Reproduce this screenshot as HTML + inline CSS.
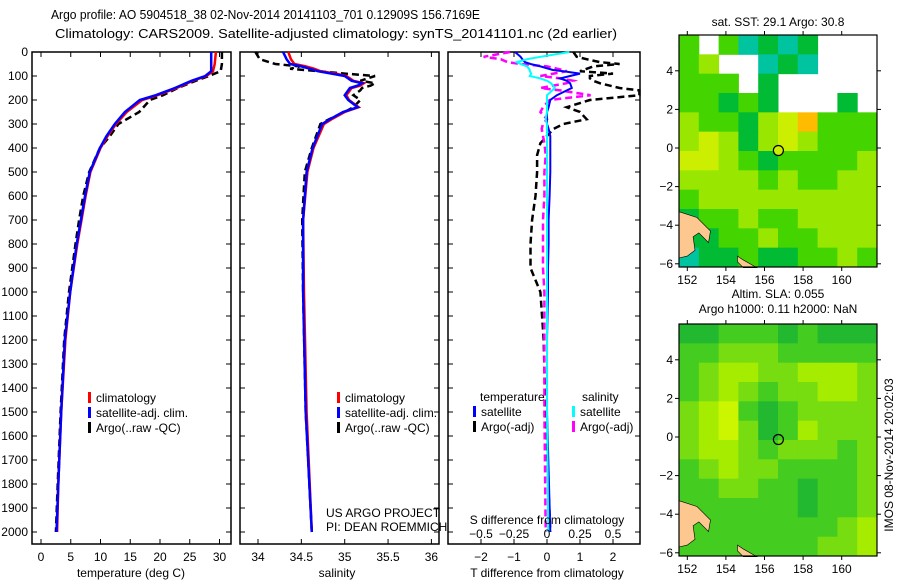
<!DOCTYPE html>
<html><head><meta charset="utf-8"><style>
html,body{margin:0;padding:0;background:#fff}
svg{display:block;font-family:"Liberation Sans",sans-serif}
</style></head><body>
<svg id="fig" width="900" height="580" viewBox="0 0 900 580" xmlns="http://www.w3.org/2000/svg">
<defs><clipPath id="clip2"><rect x="240" y="52" width="199" height="492"/></clipPath></defs>
<text x="51" y="19" font-size="13" textLength="429" lengthAdjust="spacingAndGlyphs">Argo profile: AO 5904518_38 02-Nov-2014 20141103_701 0.12909S 156.7169E</text>
<text x="55" y="38" font-size="13" textLength="562" lengthAdjust="spacingAndGlyphs">Climatology: CARS2009. Satellite-adjusted climatology: synTS_20141101.nc (2d earlier)</text>
<g id="p1"></g>
<g id="p2"></g>
<g id="p3"></g>
<g id="m1"></g>
<g id="m2"></g>
<text transform="translate(893,455) rotate(-90)" text-anchor="middle" font-size="12">IMOS 08-Nov-2014 20:02:03</text>
</svg>
<script>
// ---- data ----
const depthTicks = [0,100,200,300,400,500,600,700,800,900,1000,1100,1200,1300,1400,1500,1600,1700,1800,1900,2000];
const tempTicks = [0,5,10,15,20,25,30];
const salTicks = [34,34.5,35,35.5,36];
const salTickLabels = ["34","34.5","35","35.5","36"];
const tdiffTicks = [-2,-1,0,1,2];
const sdiffTicks = [-0.5,-0.25,0,0.25,0.5];
const sdiffLabels = ["\u22120.5","\u22120.25","0","0.25","0.5"];
const tdiffLabels = ["\u22122","\u22121","0","1","2"];

const tDepth = [0,50,80,100,120,150,180,200,250,300,350,400,500,600,700,800,1000,1200,1500,1800,2000];
const tClim = [29.4,29.2,28.9,27.8,25.5,22.8,19.6,17.0,14.4,12.6,11.2,10.0,8.3,7.5,6.8,6.1,4.9,4.1,3.4,2.9,2.7];
const tSat  = [28.6,28.6,28.6,27.6,25.3,22.5,19.3,16.6,14.1,12.4,11.0,9.9,8.2,7.4,6.7,6.0,4.9,4.0,3.4,2.9,2.6];
const tArgo = [30.4,30.4,30.2,28.2,26.0,23.0,20.5,18.3,16.5,13.0,11.6,9.9,8.1,7.1,6.4,5.8,4.7,3.9,3.3,2.8,2.5];

const sDepth = [0,30,50,60,70,80,90,100,120,130,140,150,160,180,200,230,250,280,300,400,500,700,1000,1500,2000];
const sClim = [34.35,34.38,34.42,34.55,34.65,34.72,34.9,35.02,35.1,35.22,35.18,35.08,35.06,35.02,35.05,35.16,35.0,34.85,34.76,34.64,34.57,34.52,34.53,34.56,34.62];
const sSat  = [34.29,34.33,34.37,34.5,34.6,34.69,34.85,35.0,35.08,35.2,35.15,35.06,35.04,35.0,35.04,35.15,34.98,34.83,34.74,34.63,34.56,34.52,34.52,34.55,34.62];
const sArgo = [33.97,34.02,34.2,34.48,34.37,34.7,35.0,35.35,35.18,35.35,35.3,35.2,35.18,35.1,35.18,35.1,35.0,34.82,34.72,34.62,34.54,34.51,34.52,34.55,34.62];

const dDepth = [0,20,30,42,50,60,75,80,90,100,110,120,130,150,160,180,200,230,250,280,300,320,350,380,430,500,600,700,800,900,1000,1200,1500,2000];
const dTsat  = [-0.97,-0.8,-0.75,-0.67,-0.5,-0.2,0.18,0.5,1.0,0.7,0.4,0.6,0.7,0.75,0.6,0.3,0.1,0.05,0.0,0.0,0.0,0.05,0.1,0.1,0.1,0.1,0.08,0.05,0.05,0.03,0.03,0.0,0.0,0.1];
const dTargo = [0.8,0.9,1.2,1.6,2.2,1.4,1.1,1.0,2.0,1.3,1.3,1.4,1.6,2.2,2.8,2.8,1.3,0.6,1.0,1.2,0.5,0.2,0.0,-0.2,-0.3,-0.3,-0.35,-0.45,-0.5,-0.5,-0.2,-0.1,-0.05,0.1];
const dSsat  = [0.17,-0.05,-0.15,-0.23,-0.2,-0.15,-0.13,-0.13,-0.12,-0.13,-0.05,0.0,0.03,0.06,0.04,0.0,0.0,0.0,0.0,-0.01,0.0,0.0,0.0,0.0,0.0,0.0,0.0,0.0,0.0,0.0,0.0,0.0,0.0,0.01];
const dSargo = [-0.28,-0.48,-0.35,-0.3,-0.2,0.0,0.12,0.15,0.05,-0.05,0.1,0.2,0.15,-0.05,0.1,0.33,0.02,-0.03,-0.05,0.0,-0.03,-0.04,-0.03,-0.02,-0.01,-0.02,-0.02,-0.03,-0.03,-0.03,-0.02,-0.02,-0.02,-0.01];

const lonTicks = [152,154,156,158,160];
const latTicks = [4,2,0,-2,-4,-6];
const sstGrid = [
 [1,-1,1,5,0,5,0,-1,-1,-1],
 [1,2,-1,-1,5,0,5,-1,-1,-1],
 [1,1,1,-1,0,-1,-1,-1,-1,-1],
 [1,1,0,1,0,-1,-1,-1,0,-1],
 [2,1,1,0,2,3,4,1,1,1],
 [2,3,2,0,2,3,2,1,1,1],
 [3,3,2,1,0,1,1,1,1,2],
 [2,2,2,2,1,2,1,1,2,2],
 [1,2,2,2,2,2,2,2,2,2],
 [0,1,1,2,1,1,2,2,2,2],
 [0,0,1,1,2,1,1,2,2,2],
 [5,0,0,1,0,0,1,1,2,1]];
const slaGrid = [
 [0,0,1,1,1,0,1,0,0,0],
 [1,1,2,2,2,1,1,1,1,1],
 [1,2,3,3,2,2,3,3,3,2],
 [1,2,3,2,1,2,2,3,3,2],
 [2,3,4,1,0,1,2,2,2,2],
 [2,3,4,2,0,1,3,2,2,2],
 [2,3,3,2,1,2,2,2,1,2],
 [1,2,3,2,2,1,1,1,1,2],
 [1,1,2,2,1,1,0,1,1,2],
 [1,1,1,1,1,1,0,1,1,2],
 [1,1,1,1,1,1,1,1,2,3],
 [1,1,1,1,1,1,1,2,2,3]];
const floatLon = 156.72, floatLat = -0.13;

// ---- helpers ----
const NS="http://www.w3.org/2000/svg";
function mk(tag,attrs,parent){const e=document.createElementNS(NS,tag);for(const k in attrs)e.setAttribute(k,attrs[k]);parent.appendChild(e);return e;}
const TOP=52, BOT=544;
const yD = d => TOP + d*0.24;
const xT = t => 41 + t*5.95;
const xS = s => 258 + (s-34)*86.7;
const xdT = v => 547 + v*33;
const xdS = v => 547 + v*132;

function frame(g,x0,x1,name){
  const r=mk('rect',{x:x0,y:TOP,width:x1-x0,height:BOT-TOP,fill:'none',stroke:'#000','stroke-width':1.5},g);
  
  depthTicks.forEach(d=>{
    mk('line',{x1:x0,x2:x0+5,y1:yD(d),y2:yD(d),stroke:'#000'},g);
    mk('line',{x1:x1-5,x2:x1,y1:yD(d),y2:yD(d),stroke:'#000'},g);
  });
}
function line(g,xs,ys,fx,color,dash,name,w){
  const pts=xs.map((v,i)=>fx(v).toFixed(1)+','+yD(ys[i]).toFixed(1)).join(' ');
  const p=mk('polyline',{points:pts,fill:'none',stroke:color,'stroke-width':w||2.5},g);
  if(dash)p.setAttribute('stroke-dasharray',dash);
  
  
}
function txt(g,x,y,s,anchor,size,name){
  const t=mk('text',{x:x,y:y,'font-size':size||12,'text-anchor':anchor||'start'},g);t.textContent=s;
  
  
  return t;
}
function legend(g,x,y,items){
  items.forEach((it,i)=>{
    mk('rect',{x:x,y:y+i*15-10,width:3,height:11,fill:it[1]},g);
    txt(g,x+8,y+i*15,it[0],'start',12,'legend-entry');
  });
}

// ---- panel 1 ----
const p1=document.getElementById('p1');
frame(p1,32,231,'temperature');
depthTicks.forEach(d=>txt(p1,28,yD(d)+4,String(d),'end',12,'depth-tick-label'));
tempTicks.forEach(t=>{mk('line',{x1:xT(t),x2:xT(t),y1:BOT,y2:BOT-5,stroke:'#000'},p1);mk('line',{x1:xT(t),x2:xT(t),y1:TOP,y2:TOP+5,stroke:'#000'},p1);txt(p1,xT(t),561,String(t),'middle',12,'temp-tick-label');});
txt(p1,131,577,'temperature (deg C)','middle',12,'x-axis-title-temperature');
line(p1,tArgo,tDepth,xT,'#000','7,4','temp-argo-line',2.5);
line(p1,tClim,tDepth,xT,'#f00',null,'temp-climatology-line',2.5);
line(p1,tSat,tDepth,xT,'#00f',null,'temp-satellite-line',2.5);
legend(p1,88,402,[['climatology','#f00'],['satellite-adj. clim.','#00f'],['Argo(..raw -QC)','#000']]);

// ---- panel 2 ----
const p2=document.getElementById('p2');
frame(p2,240,439,'salinity');
salTicks.forEach((s,i)=>{mk('line',{x1:xS(s),x2:xS(s),y1:BOT,y2:BOT-5,stroke:'#000'},p2);mk('line',{x1:xS(s),x2:xS(s),y1:TOP,y2:TOP+5,stroke:'#000'},p2);txt(p2,xS(s),561,salTickLabels[i],'middle',12,'sal-tick-label');});
txt(p2,337,577,'salinity','middle',12,'x-axis-title-salinity');
line(p2,sArgo,sDepth,xS,'#000','7,4','sal-argo-line',2.5);
line(p2,sClim,sDepth,xS,'#f00',null,'sal-climatology-line',2.5);
line(p2,sSat,sDepth,xS,'#00f',null,'sal-satellite-line',2.5);
const lg2=mk('g',{'clip-path':'url(#clip2)'},p2);


legend(lg2,337,402,[['climatology','#f00'],['satellite-adj. clim.','#00f'],['Argo(..raw -QC)','#000']]);
txt(p2,326,517,'US ARGO PROJECT','start',12,'project-label');
txt(p2,326,531,'PI: DEAN ROEMMICH','start',12,'pi-label');

// ---- panel 3 ----
const p3=document.getElementById('p3');
frame(p3,448,640,'difference');
tdiffTicks.forEach((t,i)=>{mk('line',{x1:xdT(t),x2:xdT(t),y1:BOT,y2:BOT-5,stroke:'#000'},p3);mk('line',{x1:xdT(t),x2:xdT(t),y1:TOP,y2:TOP+5,stroke:'#000'},p3);txt(p3,xdT(t),561,tdiffLabels[i],'middle',12,'tdiff-tick-label');});
txt(p3,547,577,'T difference from climatology','middle',12,'x-axis-title-tdiff');
line(p3,dTargo,dDepth,xdT,'#000','7,4','tdiff-argo-line',2.5);
line(p3,dSargo,dDepth,xdS,'#f0f','7,4','sdiff-argo-line',2.5);
line(p3,dTsat,dDepth,xdT,'#00f',null,'tdiff-satellite-line',2);
line(p3,dSsat,dDepth,xdS,'#0ff',null,'sdiff-satellite-line',2);
txt(p3,547,524,'S difference from climatology','middle',12,'sdiff-axis-title');
sdiffTicks.forEach((s,i)=>txt(p3,xdS(s),538,sdiffLabels[i],'middle',12,'sdiff-tick-label'));
txt(p3,480,401,'temperature','start',12,'legend-heading-temperature');
txt(p3,582,401,'salinity','start',12,'legend-heading-salinity');
legend(p3,473,416,[['satellite','#00f'],['Argo(-adj)','#000']]);
legend(p3,572,416,[['satellite','#0ff'],['Argo(-adj)','#f0f']]);

// ---- maps ----
const sstCols={'0':'#00bb33','1':'#44d400','2':'#99e600','3':'#ccee00','4':'#ffbb00','5':'#00c4a0'};
const slaCols={'0':'#22b830','1':'#44cc20','2':'#77dd10','3':'#a6ec00','4':'#ccf500'};
function map(id,y0,grid,cols,title1,title2,name){
  const g=document.getElementById(id);
  const x0=679,x1=877,y1=y0+232;
  const lonX=l=>687.3+(l-152)*19.3;
  const latY=l=>(y0+113)-l*19.3;
  const cw=(x1-x0)/grid[0].length, ch=(y1-y0)/grid.length;
  grid.forEach((row,r)=>row.forEach((v,c)=>{
    if(v<0)return;
    const cell=mk('rect',{x:x0+c*cw,y:y0+r*ch,width:cw+0.5,height:ch+0.5,fill:cols[v]},g);
    
    
  }));
  mk('path',{d:`M${x0} ${latY(-3.3)} L${lonX(152.5)} ${latY(-3.6)} L${lonX(153.2)} ${latY(-4.3)} L${lonX(153.1)} ${latY(-4.9)} L${lonX(152.6)} ${latY(-4.4)} L${lonX(152.3)} ${latY(-4.6)} L${lonX(152.4)} ${latY(-5.3)} L${lonX(152)} ${latY(-5.6)} L${x0} ${latY(-5.7)} Z`,fill:'#fdc890',stroke:'#000','stroke-width':0.6},g);
  mk('path',{d:`M${lonX(154.6)} ${latY(-5.6)} L${lonX(154.9)} ${latY(-5.8)} L${lonX(155.6)} ${latY(-6.2)} L${lonX(154.9)} ${latY(-6.2)} L${lonX(154.6)} ${latY(-5.9)} Z`,fill:'#fdc890',stroke:'#000','stroke-width':0.6},g);
  const fr=mk('rect',{x:x0,y:y0,width:x1-x0,height:y1-y0,fill:'none',stroke:'#000','stroke-width':1.2},g);
  
  lonTicks.forEach(l=>{mk('line',{x1:lonX(l),x2:lonX(l),y1:y1,y2:y1+4,stroke:'#000'},g);mk('line',{x1:lonX(l),x2:lonX(l),y1:y0,y2:y0-4,stroke:'#000'},g);txt(g,lonX(l),y1+17,String(l),'middle',12,'lon-tick-label');});
  latTicks.forEach(l=>{mk('line',{x1:x0-4,x2:x0,y1:latY(l),y2:latY(l),stroke:'#000'},g);mk('line',{x1:x1,x2:x1+4,y1:latY(l),y2:latY(l),stroke:'#000'},g);txt(g,x0-6,latY(l)+4,l<0?'\u2212'+(-l):String(l),'end',12,'lat-tick-label');});
  const c=mk('circle',{cx:lonX(floatLon),cy:latY(floatLat),r:5,fill:id==='m1'?'#ccee00':'none',stroke:'#000','stroke-width':1.2},g);
  
  if(title2){txt(g,778,y0-30+4,title1,'middle',12,name+'-title');txt(g,778,y0-15+4,title2,'middle',12,name+'-subtitle');}
  else txt(g,778,y0-9,title1,'middle',12,name+'-title');
}
map('m1',35,sstGrid,sstCols,'sat. SST: 29.1 Argo: 30.8',null,'sst-map');
map('m2',324,slaGrid,slaCols,'Altim. SLA: 0.055','Argo h1000: 0.11 h2000: NaN','sla-map');
</script>
</body></html>
